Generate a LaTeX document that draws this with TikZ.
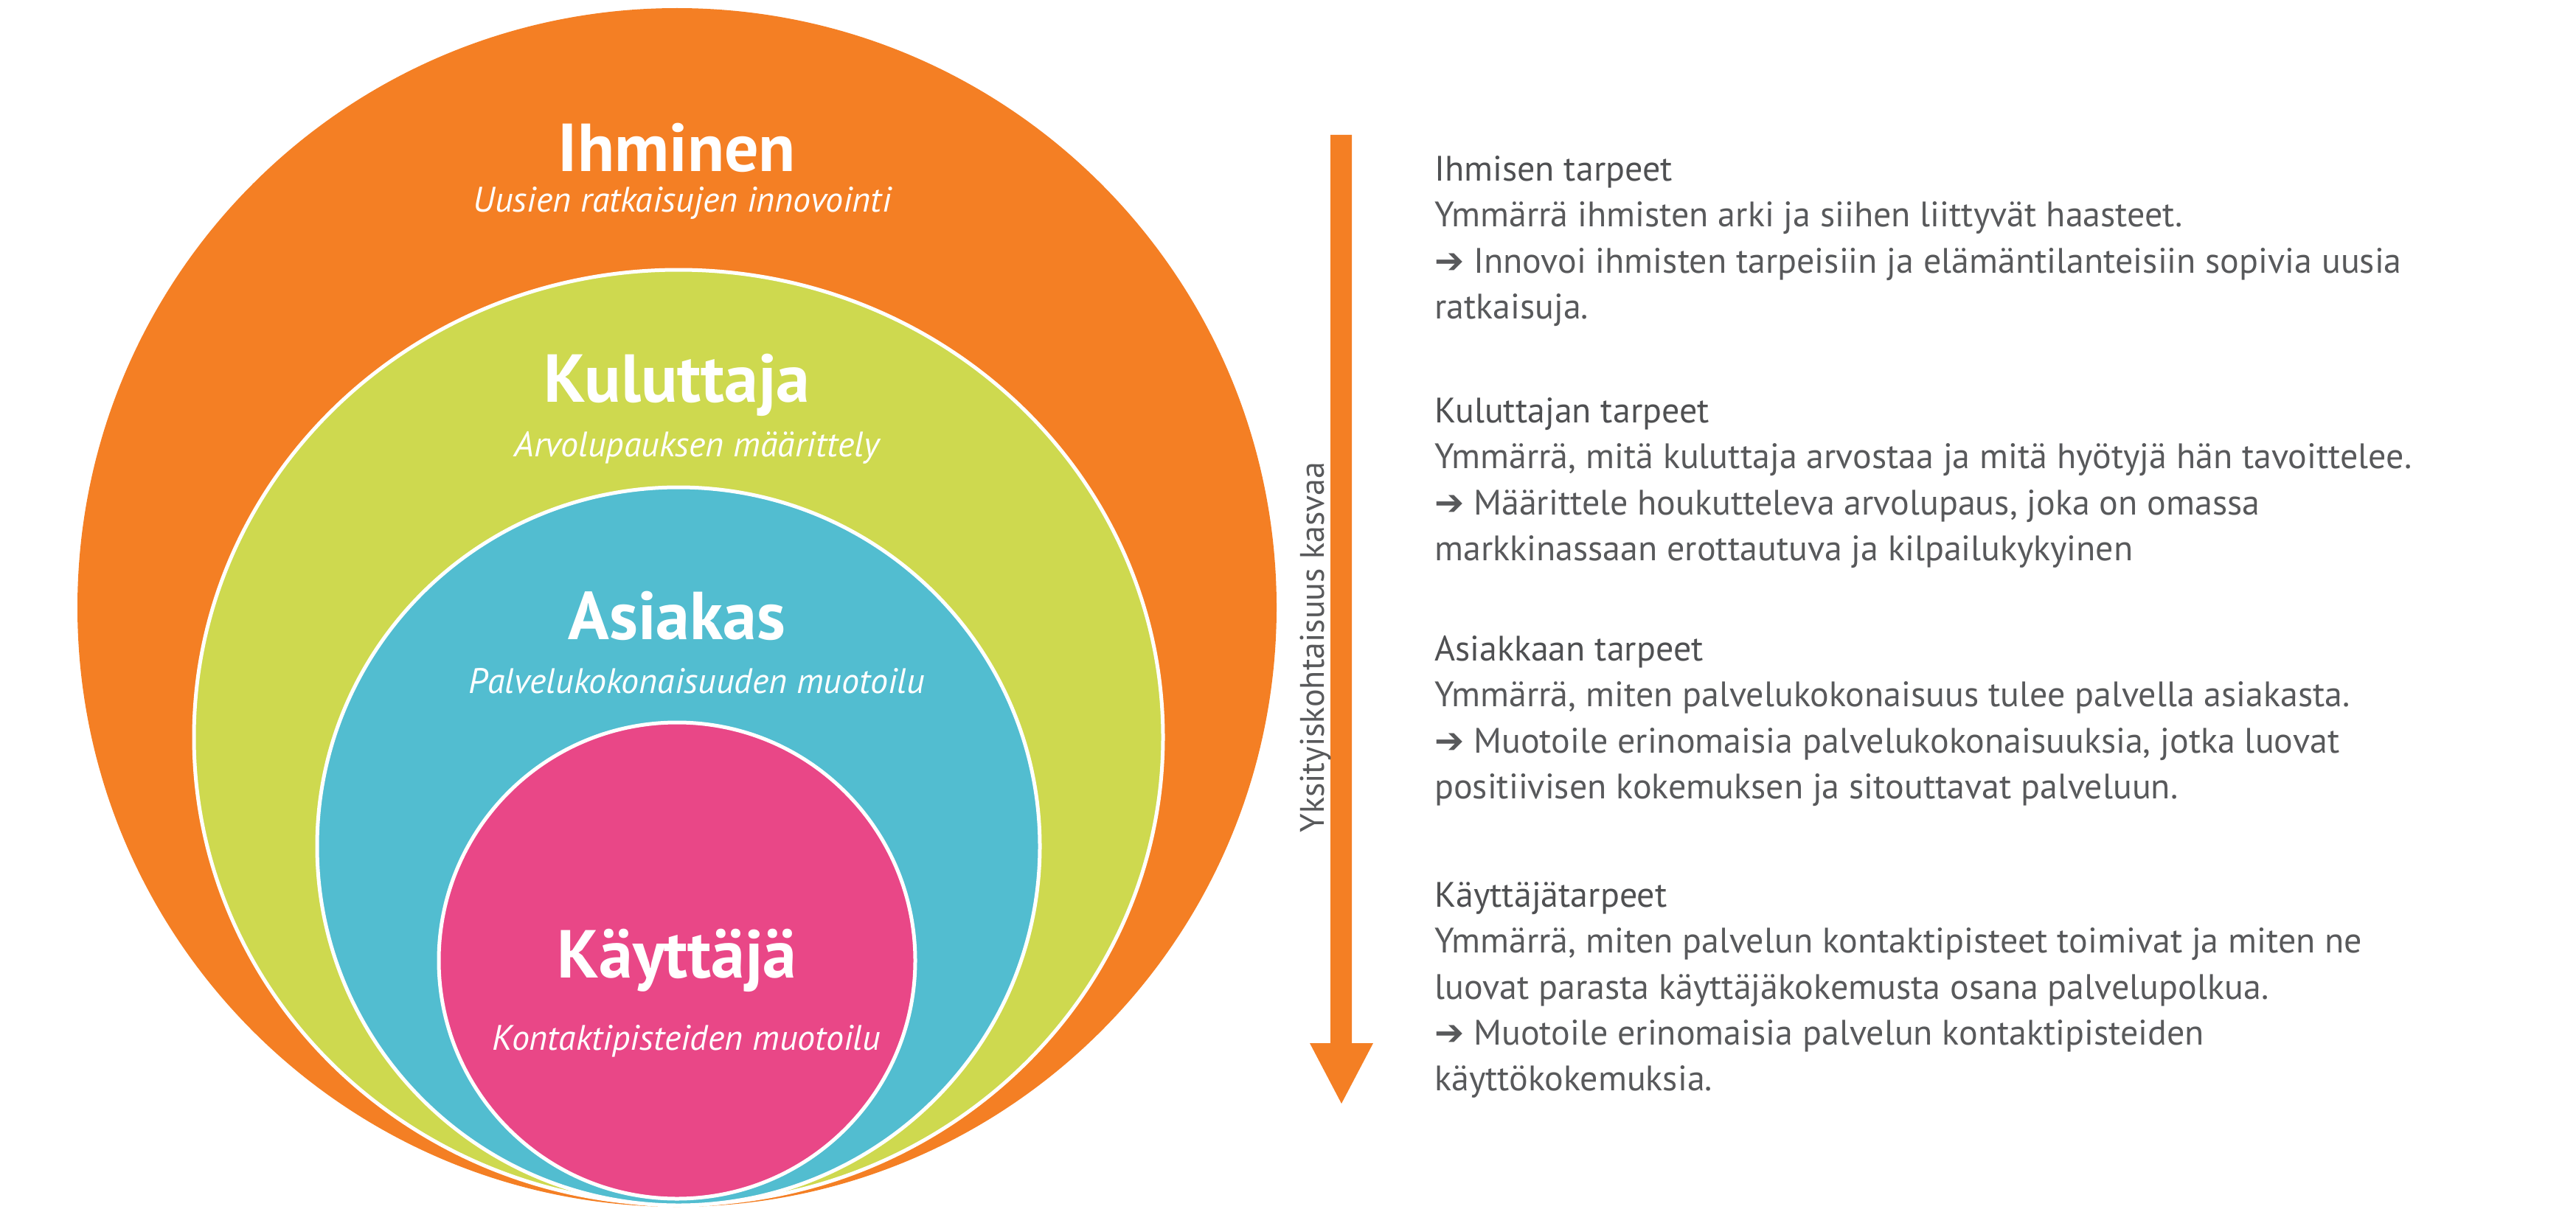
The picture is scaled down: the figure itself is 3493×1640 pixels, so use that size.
\documentclass[tikz,border=0pt]{standalone}
\usepackage{fontspec}
\setmainfont{PT Sans}
\newfontfamily\symf{DejaVu Sans}
\definecolor{cOr}{HTML}{F47F24}
\definecolor{cGr}{HTML}{CED94F}
\definecolor{cBl}{HTML}{52BDD0}
\definecolor{cPk}{HTML}{E94787}
\definecolor{cTx}{HTML}{58595B}
\begin{document}
\begin{tikzpicture}[x=1pt,y=-1pt,
  ring/.style={draw=white,line width=5pt},
  ttl/.style={text=white,font=\fontsize{92}{100}\selectfont\bfseries,inner sep=0},
  sub/.style={text=white,font=\fontsize{48}{54}\selectfont\itshape,inner sep=0},
  rt/.style={text=cTx,font=\fontsize{48}{56}\selectfont,anchor=base west,inner sep=0},
  rh/.style={rt,text=cTx!90!black}]
\useasboundingbox (0,0) rectangle (3493,1640);
\fill[cOr] (918,824) ellipse [x radius=813,y radius=813];
\filldraw[ring,fill=cGr] (920,1000) ellipse [x radius=657,y radius=634];
\filldraw[ring,fill=cBl] (920,1148) ellipse [x radius=490,y radius=487];
\filldraw[ring,fill=cPk] (918,1303) ellipse [x radius=323,y radius=323];
\node[ttl] (t1) at (918,200) {Ihminen};
\node[sub] (s1) at (925,275) {Uusien ratkaisujen innovointi};
\node[ttl] (t2) at (918,522) {Kuluttaja};
\node[sub] (s2) at (945,607) {Arvolupauksen määrittely};
\node[ttl] (t3) at (918,835) {Asiakas};
\node[sub] (s3) at (945,924) {Palvelukokonaisuuden muotoilu};
\node[ttl] (t4) at (918,1303) {Käyttäjä};
\node[sub] (s4) at (931,1412) {Kontaktipisteiden muotoilu};
% arrow
\fill[cOr] (1804,183) -- (1833,183) -- (1833,1415) -- (1862,1415) -- (1819,1497) -- (1776,1415) -- (1804,1415) -- cycle;
\node[rotate=90,text=cTx,font=\fontsize{46}{52}\selectfont,inner sep=0] (vl) at (1784,878) {Yksityiskohtaisuus kasvaa};
% texts
\def\ar{{\symf ➔}}
\node[rh] (h1) at (1945,245) {Ihmisen tarpeet};
\node[rt] (a1) at (1945,307) {Ymmärrä ihmisten arki ja siihen liittyvät haasteet.};
\node[rt] (a2) at (1945,370) {\ar\ Innovoi ihmisten tarpeisiin ja elämäntilanteisiin sopivia uusia};
\node[rt] (a3) at (1945,432) {ratkaisuja.};
\node[rh] (h2) at (1945,573) {Kuluttajan tarpeet};
\node[rt] (b1) at (1945,635) {Ymmärrä, mitä kuluttaja arvostaa ja mitä hyötyjä hän tavoittelee.};
\node[rt] (b2) at (1945,698) {\ar\ Määrittele houkutteleva arvolupaus, joka on omassa};
\node[rt] (b3) at (1945,760) {markkinassaan erottautuva ja kilpailukykyinen};
\node[rh] (h3) at (1945,896) {Asiakkaan tarpeet};
\node[rt] (c1) at (1945,958) {Ymmärrä, miten palvelukokonaisuus tulee palvella asiakasta.};
\node[rt] (c2) at (1945,1021) {\ar\ Muotoile erinomaisia palvelukokonaisuuksia, jotka luovat};
\node[rt] (c3) at (1945,1083) {positiivisen kokemuksen ja sitouttavat palveluun.};
\node[rh] (h4) at (1945,1230) {Käyttäjätarpeet};
\node[rt] (d1) at (1945,1292) {Ymmärrä, miten palvelun kontaktipisteet toimivat ja miten ne};
\node[rt] (d2) at (1945,1355) {luovat parasta käyttäjäkokemusta osana palvelupolkua.};
\node[rt] (d3) at (1945,1417) {\ar\ Muotoile erinomaisia palvelun kontaktipisteiden};
\node[rt] (d4) at (1945,1479) {käyttökokemuksia.};
\end{tikzpicture}
\end{document}
